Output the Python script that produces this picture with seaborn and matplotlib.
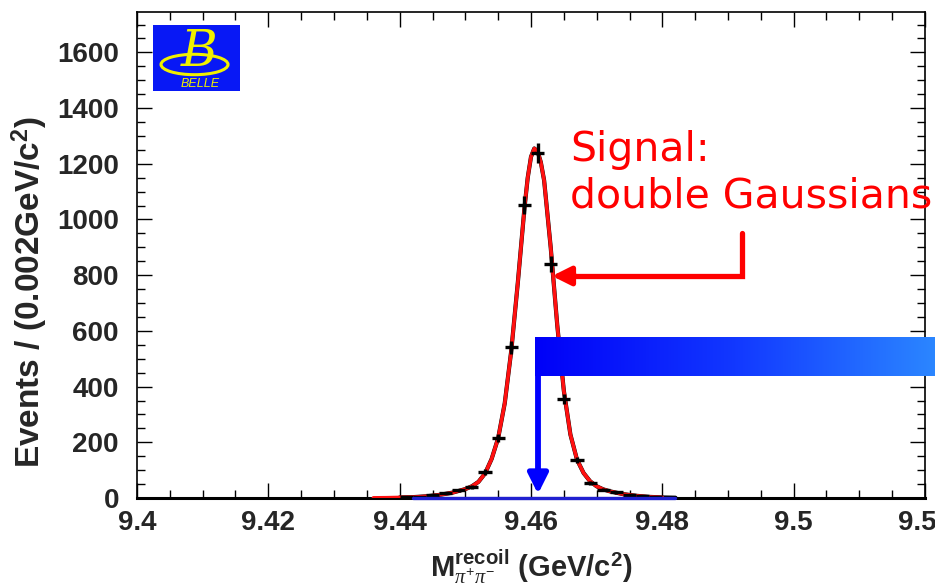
import numpy as np
import matplotlib
matplotlib.use('Agg')
import matplotlib.pyplot as plt
from matplotlib.patches import Rectangle, Ellipse
from matplotlib.lines import Line2D
from matplotlib.colors import LinearSegmentedColormap
from matplotlib.ticker import MultipleLocator
import seaborn as sns

# Binned data, bin width 0.002 GeV/c^2
bin_centers = [9.441, 9.443, 9.445, 9.447, 9.449, 9.451, 9.453, 9.455, 9.457, 9.459,
               9.461, 9.463, 9.465, 9.467, 9.469, 9.471, 9.473, 9.475, 9.477, 9.479]
event_counts = [3, 5, 10, 18, 27, 40, 93, 215, 542, 1051,
                1238, 840, 355, 136, 54, 30, 20, 12, 6, 3]

# Fitted curve (signal: double Gaussians)
fit_x = [9.436, 9.438, 9.440, 9.442, 9.444, 9.446, 9.448, 9.450, 9.451, 9.452,
         9.453, 9.454, 9.455, 9.456, 9.457, 9.458, 9.459, 9.4595, 9.460, 9.4605,
         9.461, 9.4615, 9.462, 9.463, 9.464, 9.465, 9.466, 9.467, 9.468, 9.469,
         9.470, 9.471, 9.472, 9.474, 9.476, 9.478, 9.480, 9.482]
signal_y = [0.5, 1, 2, 3, 6, 11, 19, 32, 42, 58,
            88, 140, 215, 340, 530, 775, 1040, 1150, 1225, 1255,
            1245, 1205, 1140, 900, 620, 385, 228, 138, 90, 60,
            42, 31, 24, 14, 8, 4, 2, 1]

# Background (flat, ~0)
bkg_x = [9.442, 9.482]
bkg_y = [0, 0]

x_ticks = [9.40, 9.42, 9.44, 9.46, 9.48, 9.50, 9.52]
x_tick_labels = ['9.4', '9.42', '9.44', '9.46', '9.48', '9.5', '9.52']
y_ticks = [0, 200, 400, 600, 800, 1000, 1200, 1400, 1600]

sns.set_theme(style='ticks')
plt.rcParams['font.family'] = ['Liberation Sans', 'DejaVu Sans']
plt.rcParams['mathtext.fontset'] = 'custom'
plt.rcParams['mathtext.rm'] = 'Liberation Sans'
plt.rcParams['mathtext.bf'] = 'Liberation Sans:bold'
plt.rcParams['mathtext.it'] = 'Liberation Serif:italic'

fig = plt.figure(figsize=(9.35, 5.86), dpi=100)
fig.patch.set_facecolor('white')
ax = fig.add_axes([137 / 935, 1 - 498 / 586, 788 / 935, 486 / 586])

# total fit (black) under signal (red)
sns.lineplot(x=fit_x[2:], y=signal_y[2:], color='black', lw=3.0, ax=ax, estimator=None, zorder=3)
sns.lineplot(x=fit_x[:-1], y=signal_y[:-1], color='#ff1010', lw=2.6, ax=ax, estimator=None, zorder=4)
sns.lineplot(x=bkg_x, y=bkg_y, color='#2020d0', lw=2.4, ax=ax, estimator=None, zorder=6)
ax.lines[-1].set_clip_on(False)

counts = np.array(event_counts)
ax.errorbar(bin_centers, counts, xerr=0.001, yerr=np.sqrt(counts), fmt='none',
            ecolor='black', elinewidth=2.4, capsize=0, zorder=5)

ax.set_xlim(9.40, 9.52)
ax.set_ylim(0, 1745)
ax.set_xticks(x_ticks, labels=x_tick_labels)
ax.set_yticks(y_ticks)
ax.xaxis.set_minor_locator(MultipleLocator(0.005))
ax.yaxis.set_minor_locator(MultipleLocator(50))
ax.tick_params(which='both', direction='in', top=True, right=True, color='black', width=1)
ax.tick_params(which='major', length=11)
ax.tick_params(which='minor', length=5.5)
ax.tick_params(axis='x', which='major', pad=9, labelsize=20)
ax.tick_params(axis='y', which='major', pad=13, labelsize=20)
for lab in ax.get_xticklabels() + ax.get_yticklabels():
    lab.set_fontweight('bold')
for side in ['left', 'right', 'top']:
    ax.spines[side].set_linewidth(1.2)
    ax.spines[side].set_color('black')
ax.spines['bottom'].set_linewidth(2.2)
ax.spines['bottom'].set_color('black')
ax.set_facecolor('white')

ax.set_xlabel(r'M$^{\mathbf{recoil}}_{\pi^{+}\pi^{-}}$ (GeV/c$^{\mathbf{2}}$)',
              fontsize=21, fontweight='bold')
ax.xaxis.label.set_va('center')
ax.xaxis.set_label_coords(0.5, (498 - 567) / 486)
ax.set_ylabel(r'Events / (0.002GeV/c$^{\mathbf{2}}$)', fontsize=24, fontweight='bold')
ax.yaxis.label.set_va('center')
ax.yaxis.set_label_coords((30 - 137) / 788, (498 - 292) / 486)

# Belle logo
ax.add_patch(Rectangle((0.0203, 0.837), 0.1104, 0.136, transform=ax.transAxes,
                       facecolor='#0818f5', edgecolor='none', zorder=7))
ax.add_patch(Ellipse((0.073, 0.892), 0.085, 0.042, transform=ax.transAxes, fill=False,
                     edgecolor='#f0f000', lw=2.2, zorder=8))
ax.text(0.079, 0.917, 'B', transform=ax.transAxes, color='#f0f000', fontsize=36,
        family='DejaVu Serif', style='italic', ha='center', va='center', zorder=9)
ax.text(0.080, 0.852, 'BELLE', transform=ax.transAxes, color='#f0f000', fontsize=9,
        style='italic', ha='center', va='center', zorder=9)

# Signal annotation
fig.text(570 / 935, 1 - 130 / 586, 'Signal:\ndouble Gaussians', color='#ff0000',
         fontsize=29.5, family='DejaVu Sans', ha='left', va='top', linespacing=1.2)
fig.add_artist(Line2D([742 / 935, 742 / 935, 566 / 935], [1 - 233 / 586, 1 - 276 / 586, 1 - 276 / 586],
                      transform=fig.transFigure, color='#ff0000', lw=3.8,
                      solid_joinstyle='miter'))
ax.annotate('', xy=(552 / 935, 1 - 276 / 586), xycoords='figure fraction',
            xytext=(575 / 935, 1 - 276 / 586), textcoords='figure fraction',
            arrowprops=dict(arrowstyle='-|>', color='#ff0000', lw=3.8, mutation_scale=28,
                            shrinkA=0, shrinkB=0))

# Background annotation: gradient bar and arrow
grad_cmap = LinearSegmentedColormap.from_list('bar', ['#0000f8', '#1238ff', '#2b86ff'])
bar_ax = fig.add_axes([535 / 935, 1 - 376 / 586, 400 / 935, 39 / 586])
bar_ax.imshow(np.linspace(0, 1, 256)[None, :], aspect='auto', cmap=grad_cmap)
bar_ax.set_axis_off()
fig.add_artist(Line2D([538 / 935, 538 / 935], [1 - 372 / 586, 1 - 478 / 586],
                      transform=fig.transFigure, color='#0000ff', lw=4.2))
ax.annotate('', xy=(538 / 935, 1 - 494 / 586), xycoords='figure fraction',
            xytext=(538 / 935, 1 - 470 / 586), textcoords='figure fraction',
            arrowprops=dict(arrowstyle='-|>', color='#0000ff', lw=4, mutation_scale=30,
                            shrinkA=0, shrinkB=0))

fig.savefig('out.png', dpi=100)
